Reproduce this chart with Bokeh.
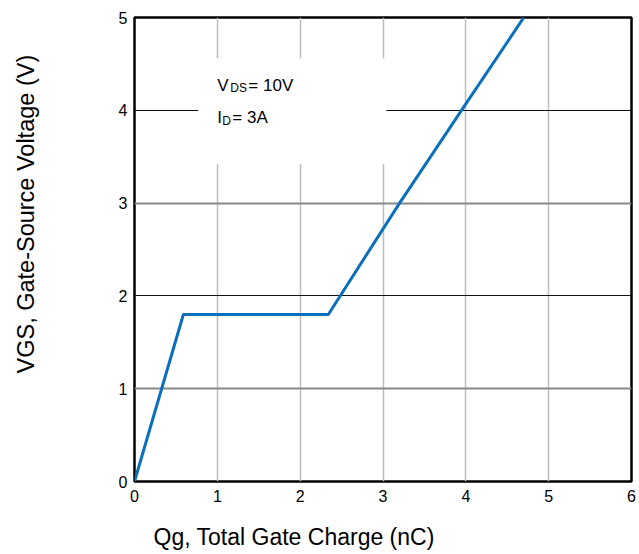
from bokeh.plotting import figure
from bokeh.models import (Range1d, FixedTicker, Grid, BoxAnnotation, Label,
                          Title, LinearAxis)
from bokeh.embed import file_html
from bokeh.resources import INLINE

# Data
qg_nc = [0.0, 0.59, 2.34, 3.2, 4.0, 4.7]
vgs_v = [0.0, 1.80, 1.80, 3.0, 4.07, 5.0]

x_ticks = [0, 1, 2, 3, 4, 5, 6]
y_ticks = [0, 1, 2, 3, 4, 5]
grid_x = [1, 2, 3, 4, 5]
grid_y_gray = [1, 3]
grid_y_black = [2, 4]

FONT = "Liberation Sans"

p = figure(width=639, height=554,
           x_range=Range1d(0, 6), y_range=Range1d(0, 5),
           output_backend="svg", toolbar_location=None,
           min_border_left=134, min_border_top=17,
           min_border_right=8, min_border_bottom=73)

p.outline_line_color = "black"
p.outline_line_width = 2.5
p.background_fill_color = "white"
p.border_fill_color = "white"

# remove default grids
p.xgrid.visible = False
p.ygrid.visible = False

p.add_layout(Grid(dimension=0, ticker=FixedTicker(ticks=grid_x),
                  grid_line_color="#bdbdbd", grid_line_width=1.5))
p.add_layout(Grid(dimension=1, ticker=FixedTicker(ticks=grid_y_gray),
                  grid_line_color="#888888", grid_line_width=2))
p.add_layout(Grid(dimension=1, ticker=FixedTicker(ticks=grid_y_black),
                  grid_line_color="#111111", grid_line_width=1))

for ax, ticks in ((p.xaxis, x_ticks), (p.yaxis, y_ticks)):
    ax.ticker = FixedTicker(ticks=ticks)
    ax.axis_line_color = None
    ax.major_tick_line_color = None
    ax.minor_tick_line_color = None
    ax.major_tick_out = 0
    ax.major_tick_in = 0
    ax.minor_tick_out = 0
    ax.minor_tick_in = 0
    ax.major_label_text_font = FONT
    ax.major_label_text_font_size = "16px"
    ax.major_label_text_color = "black"
p.xaxis.major_label_standoff = 8
p.yaxis.major_label_standoff = 7


def spacer(size):
    # label-less axis used only to reserve space between tick labels and titles
    return LinearAxis(ticker=FixedTicker(ticks=[0]), major_tick_out=size,
                      major_tick_in=0, minor_tick_out=0, minor_tick_in=0,
                      major_label_standoff=0, axis_line_color=None,
                      major_tick_line_color="white", minor_tick_line_color=None,
                      major_label_text_color=None,
                      major_label_text_font_size="0px")


p.add_layout(spacer(17), "below")
p.add_layout(spacer(76), "left")

# axis titles
p.add_layout(Title(text="Qg, Total Gate Charge (nC)", align="left", offset=19,
                   standoff=0, text_font=FONT, text_font_size="23px",
                   text_font_style="normal", text_color="black"), "below")
p.add_layout(Title(text="VGS, Gate-Source Voltage (V)", align="left", offset=108,
                   standoff=2, text_font=FONT, text_font_size="23.5px",
                   text_font_style="normal", text_color="black"), "left")

# white box behind the annotation
p.add_layout(BoxAnnotation(left=0.77, right=3.04, bottom=3.42, top=4.56,
                           fill_color="white", fill_alpha=1.0, line_color=None))

# annotation text
lab = dict(text_font=FONT, text_color="black", text_baseline="alphabetic")
p.add_layout(Label(x=1.0, y=4.27, text="V", text_font_size="17px", **lab))
p.add_layout(Label(x=1.0, y=4.27, text="DS", x_offset=13, y_offset=-3,
                   text_font_size="12px", **lab))
p.add_layout(Label(x=1.0, y=4.27, text="= 10V", x_offset=31,
                   text_font_size="17px", **lab))
p.add_layout(Label(x=1.0, y=3.92, text="I", text_font_size="17px", **lab))
p.add_layout(Label(x=1.0, y=3.92, text="D", x_offset=5, y_offset=-3,
                   text_font_size="12px", **lab))
p.add_layout(Label(x=1.0, y=3.92, text="= 3A", x_offset=15,
                   text_font_size="17px", **lab))

p.line(qg_nc, vgs_v, line_color="#0b6fbc", line_width=3)

open("out.html", "w").write(file_html(p, INLINE))
